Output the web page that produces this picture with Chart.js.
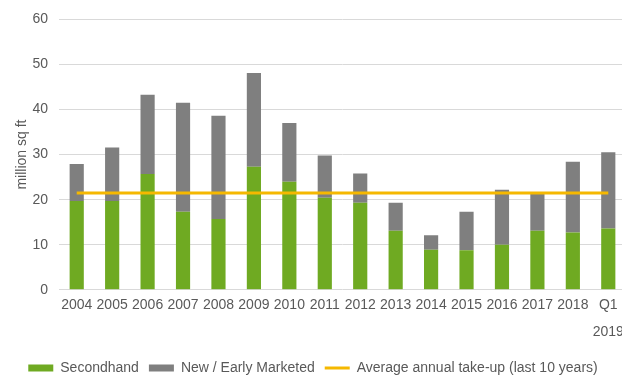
<!DOCTYPE html>
<html>
<head>
<meta charset="utf-8">
<script src="https://cdn.jsdelivr.net/npm/chart.js@4/dist/chart.umd.min.js"></script>
<style>
  html, body { margin: 0; padding: 0; background: #fff; overflow: hidden; }
  #wrap { width: 640px; height: 377px; }
</style>
</head>
<body>
<div id="wrap"><canvas id="takeup" width="640" height="377"></canvas></div>
<script>
// take-up by year, million sq ft
const years = ['2004', '2005', '2006', '2007', '2008', '2009', '2010', '2011', '2012',
    '2013', '2014', '2015', '2016', '2017', '2018', ['Q1', '2019']];
const secondhand = [19.7, 19.7, 25.7, 17.3, 15.7, 27.3, 24.0, 20.4, 19.3,
    13.1, 8.9, 8.8, 10.0, 13.1, 12.7, 13.6];
const newEarly = [8.2, 11.9, 17.6, 24.2, 22.9, 20.8, 13.0, 9.4, 6.5,
    6.2, 3.2, 8.5, 12.2, 8.2, 15.7, 16.9];
const avgTakeUp = 21.5;
const yTicks = [0, 10, 20, 30, 40, 50, 60];

const textColor = '#595959';
const baseFont = { family: "'Liberation Sans', Arial, sans-serif", size: 14 };

const ctx = document.getElementById('takeup').getContext('2d');
new Chart(ctx, {
    type: 'bar',
    data: {
        labels: years,
        datasets: [
            {
                label: 'Secondhand',
                data: secondhand,
                backgroundColor: '#6FAA22',
                pointStyle: 'rect',
                stack: 'takeup',
                order: 1
            },
            {
                label: 'New / Early Marketed',
                data: newEarly,
                backgroundColor: '#7F7F7F',
                pointStyle: 'rect',
                stack: 'takeup',
                order: 1
            },
            {
                // flat reference line drawn over the bars
                type: 'line',
                label: 'Average annual take-up (last 10 years)',
                data: years.map(() => avgTakeUp),
                borderColor: '#F5B800',
                backgroundColor: '#F5B800',
                borderWidth: 3,
                pointRadius: 0,
                pointStyle: 'line',
                stack: 'avg',
                order: 0
            }
        ]
    },
    options: {
        responsive: false,
        animation: false,
        devicePixelRatio: 1,
        layout: { padding: { top: 10, right: 14, left: 0, bottom: -8 } },
        datasets: {
            bar: { barPercentage: 0.4, categoryPercentage: 1 }
        },
        plugins: {
            tooltip: { enabled: false },
            legend: {
                position: 'bottom',
                labels: {
                    usePointStyle: true,
                    pointStyleWidth: 25,
                    boxHeight: 7,
                    padding: 10,
                    color: textColor,
                    font: baseFont,
                    // keep dataset order rather than draw order
                    sort: (a, b) => a.datasetIndex - b.datasetIndex
                }
            }
        },
        scales: {
            x: {
                stacked: true,
                afterFit: scale => { scale.height += 12; },
                grid: { display: false },
                border: { display: false },
                ticks: {
                    color: textColor,
                    font: { ...baseFont, lineHeight: 1.9 },
                    maxRotation: 0,
                    autoSkip: false,
                    padding: -6
                }
            },
            y: {
                stacked: true,
                min: 0,
                max: 60,
                afterFit: scale => { scale.width = 59; },
                afterBuildTicks: scale => { scale.ticks = yTicks.map(v => ({ value: v })); },
                grid: { color: '#D9D9D9', lineWidth: 1, drawTicks: false },
                border: { display: false },
                ticks: {
                    color: textColor,
                    font: baseFont,
                    padding: 11
                },
                title: {
                    display: true,
                    text: 'million sq ft',
                    color: textColor,
                    font: baseFont,
                    padding: { top: 14, bottom: 0 }
                }
            }
        }
    }
});
</script>
</body>
</html>
